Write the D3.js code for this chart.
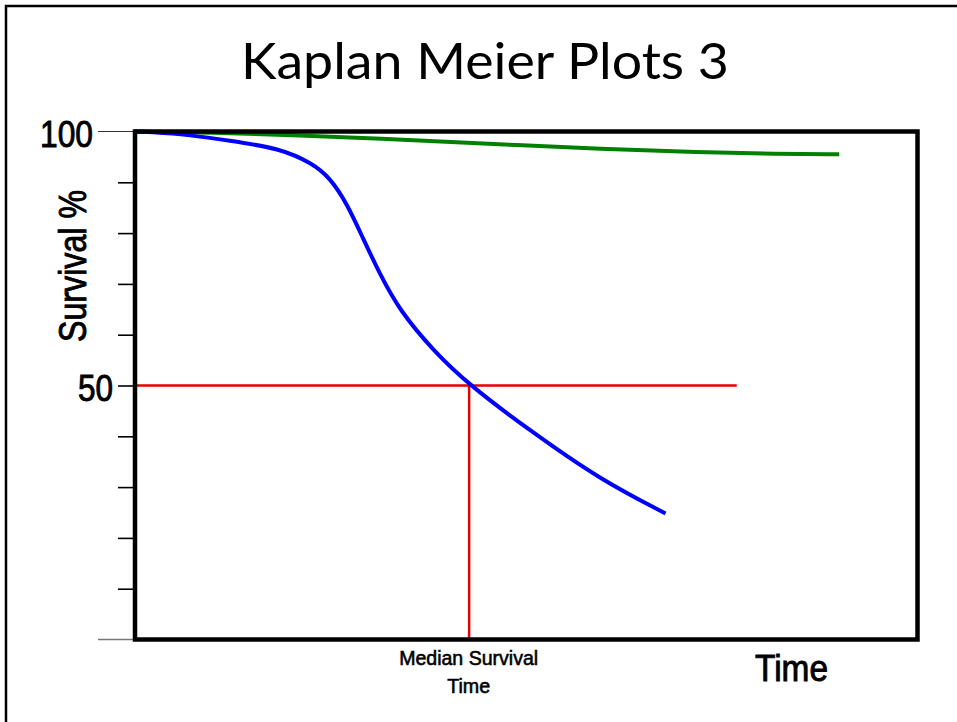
<!DOCTYPE html>
<html>
<head>
<meta charset="utf-8">
<script src="https://cdn.jsdelivr.net/npm/d3@7"></script>
<style>
  html, body { margin: 0; padding: 0; background: #fff; }
  svg { display: block; }
</style>
</head>
<body>
<svg id="chart" width="957" height="722"></svg>
<script>
// ---- data ----
const title = "Kaplan Meier Plots 3";
const yLabel = "Survival %";
const xLabel = "Time";
const medianLabel = ["Median Survival", "Time"];

const blueTime = [0, 5.75, 12.1, 18.5, 22.7, 24.9, 27.1, 29.1, 31.3, 33.8, 38.1, 42.7, 50.5, 59.4, 67.8];
const blueSurv = [100, 99.6, 98.2, 96.7, 93.7, 90.9, 85.8, 79.1, 71.9, 64.8, 56.9, 50.1, 41.1, 31.5, 24.8];

const greenTime = [0, 10, 20, 31, 45, 60, 72, 82, 90];
const greenSurv = [100, 99.8, 99.3, 98.6, 97.6, 96.5, 95.9, 95.6, 95.5];

const medianSurvival = 50;
const medianTime = 42.7;
const medianLineEnd = 76.9;

const minorTicks = [10, 20, 30, 40, 50, 60, 70, 80, 90];
const majorTicks = [0, 100];
const yTickLabels = [100, 50];

// ---- drawing ----
const svg = d3.select("#chart");

// slide frame
svg.append("rect")
  .attr("x", 6).attr("y", 6)
  .attr("width", 1000).attr("height", 800)
  .attr("fill", "none").attr("stroke", "#000").attr("stroke-width", 2.5);

// title
svg.append("text")
  .attr("x", 485).attr("y", 79)
  .attr("text-anchor", "middle")
  .attr("font-family", "Lato, 'Open Sans', sans-serif")
  .attr("font-size", 50)
  .attr("textLength", 488)
  .attr("lengthAdjust", "spacingAndGlyphs")
  .attr("fill", "#000")
  .text(title);

const x = d3.scaleLinear().domain([0, 100]).range([135, 917.5]);
const y = d3.scaleLinear().domain([0, 100]).range([639.5, 131.5]);

// minor ticks via axis
const yAxis = d3.axisLeft(y).tickValues(minorTicks).tickSize(17).tickFormat("");
const gAxis = svg.append("g").attr("transform", `translate(${x(0)},0)`).call(yAxis);
gAxis.select(".domain").remove();
gAxis.selectAll(".tick line").attr("stroke", "#000").attr("stroke-width", 1.6);

// long thin ticks at 0 and 100
svg.selectAll("line.major").data(majorTicks).enter().append("line")
  .attr("class", "major")
  .attr("x1", 98).attr("x2", x(0))
  .attr("y1", d => y(d)).attr("y2", d => y(d))
  .attr("stroke", d => d === 0 ? "#777" : "#333")
  .attr("stroke-width", d => d === 0 ? 1.6 : 1.1);

// tick labels
const labelPos = { 100: { right: 93, w: 53 }, 50: { right: 113, w: 35 } };
svg.selectAll("text.ylab").data(yTickLabels).enter().append("text")
  .attr("class", "ylab")
  .attr("x", d => labelPos[d].right - labelPos[d].w)
  .attr("y", d => y(d) + 15.5)
  .attr("font-family", "'Liberation Sans', Arial, sans-serif")
  .attr("font-size", 36)
  .attr("textLength", d => labelPos[d].w)
  .attr("lengthAdjust", "spacingAndGlyphs")
  .attr("fill", "#000").attr("stroke", "#000").attr("stroke-width", 0.9)
  .text(d => d);

// y axis label
svg.append("text")
  .attr("transform", "translate(86,266) rotate(-90)")
  .attr("text-anchor", "middle")
  .attr("font-family", "'Liberation Sans', Arial, sans-serif")
  .attr("font-size", 38)
  .attr("textLength", 152)
  .attr("lengthAdjust", "spacingAndGlyphs")
  .attr("fill", "#000").attr("stroke", "#000").attr("stroke-width", 0.9)
  .text(yLabel);

// median guide lines
svg.append("line")
  .attr("x1", x(0)).attr("x2", x(medianLineEnd))
  .attr("y1", y(medianSurvival)).attr("y2", y(medianSurvival))
  .attr("stroke", "#e60000").attr("stroke-width", 2.5);
svg.append("line")
  .attr("x1", x(medianTime)).attr("x2", x(medianTime))
  .attr("y1", y(medianSurvival)).attr("y2", y(0))
  .attr("stroke", "#e60000").attr("stroke-width", 2.5);

// curves
const line = d3.line().x(d => x(d[0])).y(d => y(d[1])).curve(d3.curveBasis);
svg.append("path")
  .datum(greenTime.map((t, i) => [t, greenSurv[i]]))
  .attr("d", line)
  .attr("fill", "none").attr("stroke", "#008000").attr("stroke-width", 4);
svg.append("path")
  .datum(blueTime.map((t, i) => [t, blueSurv[i]]))
  .attr("d", line)
  .attr("fill", "none").attr("stroke", "#0000ff").attr("stroke-width", 4);

// plot frame
svg.append("rect")
  .attr("x", x(0)).attr("y", y(100))
  .attr("width", x(100) - x(0)).attr("height", y(0) - y(100))
  .attr("fill", "none").attr("stroke", "#000").attr("stroke-width", 4.5);

// x labels
svg.selectAll("text.med").data(medianLabel).enter().append("text")
  .attr("class", "med")
  .attr("x", x(medianTime) - 0.5)
  .attr("y", (d, i) => 665 + i * 28)
  .attr("text-anchor", "middle")
  .attr("font-family", "'Liberation Sans', Arial, sans-serif")
  .attr("font-size", 21)
  .attr("textLength", (d, i) => i === 0 ? 139 : 43)
  .attr("lengthAdjust", "spacingAndGlyphs")
  .attr("fill", "#000").attr("stroke", "#000").attr("stroke-width", 0.6)
  .text(d => d);

svg.append("text")
  .attr("x", 755).attr("y", 681)
  .attr("font-family", "'Liberation Sans', Arial, sans-serif")
  .attr("font-size", 36)
  .attr("textLength", 73)
  .attr("lengthAdjust", "spacingAndGlyphs")
  .attr("fill", "#000").attr("stroke", "#000").attr("stroke-width", 0.9)
  .text(xLabel);
</script>
</body>
</html>
